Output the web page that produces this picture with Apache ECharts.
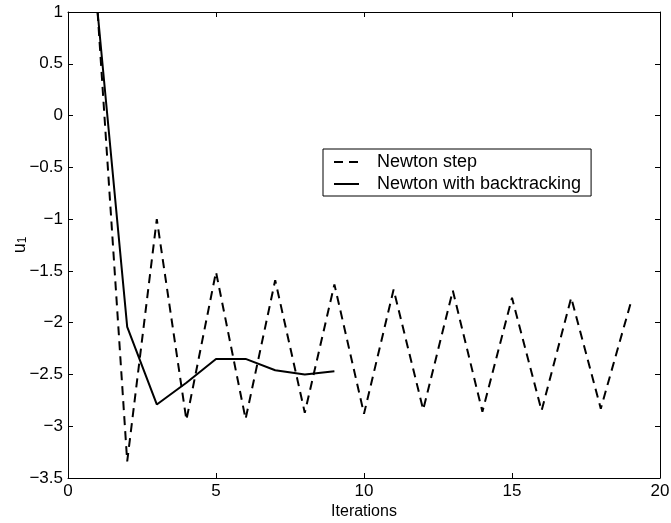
<!DOCTYPE html>
<html>
<head>
<meta charset="utf-8">
<script src="https://cdn.jsdelivr.net/npm/echarts@6/dist/echarts.min.js"></script>
<style>
html, body { margin: 0; padding: 0; background: #fff; }
#chart { width: 671px; height: 523px; }
</style>
</head>
<body>
<div id="chart"></div>
<script>
var iterStep = [1, 2, 3, 4, 5, 6, 7, 8, 9, 10, 11, 12, 13, 14, 15, 16, 17, 18, 19];
var newtonStep = [1, -3.34, -1.0, -2.94, -1.51, -2.93, -1.59, -2.87, -1.63, -2.88,
                  -1.68, -2.84, -1.69, -2.86, -1.76, -2.85, -1.76, -2.83, -1.82];
var iterBack = [1, 2, 3, 4, 5, 6, 7, 8, 9];
var newtonBack = [1, -2.04, -2.79, -2.58, -2.35, -2.35, -2.46, -2.5, -2.47];
var legendNames = ['Newton step', 'Newton with backtracking'];

function pairs(xs, ys) {
    var out = [];
    for (var i = 0; i < xs.length; i++) {
        out.push([xs[i], ys[i]]);
    }
    return out;
}
function minus(v) {
    return String(v).replace('-', '\u2212');
}

var font = 'Liberation Sans, Arial, Helvetica, sans-serif';
var tickStyle = { show: true, inside: true, length: 5, lineStyle: { color: '#000', width: 1 } };
var lineBlack = { show: true, onZero: false, lineStyle: { color: '#000', width: 1 } };

var mychart = echarts.init(document.getElementById('chart'));
var option = {
    backgroundColor: '#fff',
    animation: false,
    grid: { left: 68, right: 11, top: 12, bottom: 45, containLabel: false, outerBoundsMode: 'none' },
    legend: {
        data: legendNames,
        orient: 'vertical',
        left: 323,
        top: 149,
        padding: [3, 10, 2, 10],
        itemGap: 2,
        itemWidth: 25,
        itemHeight: 14,
        itemStyle: { opacity: 0 },
        borderColor: '#000',
        borderWidth: 1,
        backgroundColor: '#fff',
        textStyle: { color: '#000', fontSize: 18, fontFamily: font, lineHeight: 20, padding: [0, 0, 0, 13] }
    },
    xAxis: [
        {
            type: 'value', min: 0, max: 20, interval: 5,
            name: 'Iterations', nameLocation: 'middle', nameGap: 26, nameMoveOverlap: false,
            nameTextStyle: { color: '#000', fontSize: 16, fontFamily: font },
            axisLine: lineBlack, axisTick: tickStyle, splitLine: { show: false },
            axisLabel: { color: '#000', fontSize: 17, fontFamily: font, margin: 5 }
        },
        {
            type: 'value', min: 0, max: 20, interval: 5, position: 'top',
            axisLine: lineBlack, axisTick: tickStyle, splitLine: { show: false },
            axisLabel: { show: false }
        }
    ],
    yAxis: [
        {
            type: 'value', min: -3.5, max: 1, interval: 0.5,
            name: '{u|u}{s|1}', nameLocation: 'middle', nameGap: 39, nameRotate: 90, nameMoveOverlap: false,
            nameTextStyle: {
                color: '#000', fontFamily: font,
                rich: {
                    u: { fontSize: 18, fontFamily: font, color: '#000', verticalAlign: 'bottom', lineHeight: 22 },
                    s: { fontSize: 12, fontFamily: font, color: '#000', verticalAlign: 'bottom', lineHeight: 14 }
                }
            },
            axisLine: lineBlack, axisTick: tickStyle, splitLine: { show: false },
            axisLabel: { color: '#000', fontSize: 17, fontFamily: font, margin: 5, formatter: minus }
        },
        {
            type: 'value', min: -3.5, max: 1, interval: 0.5, position: 'right',
            axisLine: lineBlack, axisTick: tickStyle, splitLine: { show: false },
            axisLabel: { show: false }
        }
    ],
    series: [
        {
            name: legendNames[0],
            type: 'line',
            data: pairs(iterStep, newtonStep),
            symbol: 'none',
            color: '#000',
            lineStyle: { color: '#000', width: 2, type: [9, 6] }
        },
        {
            name: legendNames[1],
            type: 'line',
            data: pairs(iterBack, newtonBack),
            symbol: 'none',
            color: '#000',
            lineStyle: { color: '#000', width: 2, type: 'solid' }
        }
    ]
};
mychart.setOption(option);
</script>
</body>
</html>
